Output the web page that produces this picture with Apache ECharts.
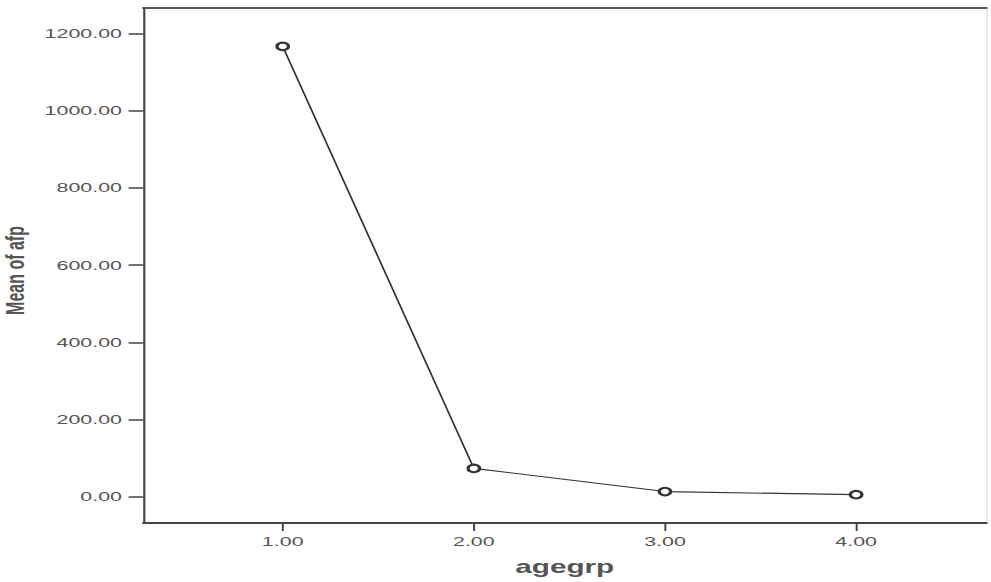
<!DOCTYPE html>
<html>
<head>
<meta charset="utf-8">
<script src="https://cdn.jsdelivr.net/npm/echarts@6/dist/echarts.min.js"></script>
<style>
html,body{margin:0;padding:0;background:#fff;overflow:hidden;}
#wrap{width:991px;height:582px;overflow:hidden;}
#chart{width:601px;height:582px;transform:scaleX(1.649);transform-origin:0 0;}
</style>
</head>
<body>
<div id="wrap"><div id="chart"></div></div>
<script>
const categories = [1, 2, 3, 4];
const meanAfp = [1166, 74, 14, 6];
const yTicks = [0, 200, 400, 600, 800, 1000, 1200];
const xTicks = [1, 2, 3, 4];
const xTitle = 'agegrp';
const yTitle = 'Mean of afp';

const chart = echarts.init(document.getElementById('chart'), null, {renderer: 'svg'});
const fmt = v => Number(v).toFixed(2);
chart.setOption({
  animation: false,
  backgroundColor: '#fff',
  grid: {left: 87, right: 3, top: 8, bottom: 59, containLabel: false, outerBoundsMode: 'none'},
  xAxis: [{
    type: 'value', min: 0.2715, max: 4.68, position: 'bottom',
    name: xTitle, nameLocation: 'middle', nameGap: 35, nameMoveOverlap: false,
    nameTextStyle: {fontFamily: 'Liberation Sans', fontWeight: 'bold', fontSize: 18, color: '#555'},
    axisLine: {show: true, onZero: false, lineStyle: {color: '#444', width: 2}},
    axisTick: {show: true, length: 8, customValues: xTicks, lineStyle: {color: '#444', width: 1.2}},
    axisLabel: {customValues: xTicks, formatter: fmt, margin: 12, fontFamily: 'Liberation Sans', fontSize: 13, color: '#555'},
    splitLine: {show: false}
  }, {
    type: 'value', min: 0.2715, max: 4.68, position: 'top',
    axisLine: {show: true, onZero: false, lineStyle: {color: '#555', width: 2}},
    axisTick: {show: false}, axisLabel: {show: false}, splitLine: {show: false}
  }],
  yAxis: [{
    type: 'value', min: -67.3, max: 1265.4, position: 'left',
    name: yTitle, nameLocation: 'middle', nameGap: 70, nameRotate: 90, nameMoveOverlap: false,
    nameTextStyle: {fontFamily: 'Liberation Sans', fontWeight: 'bold', fontSize: 16, color: '#555', padding: [0, 10, 0, 0]},
    axisLine: {show: true, onZero: false, lineStyle: {color: '#444', width: 1.3}},
    axisTick: {show: true, length: 9, customValues: yTicks, lineStyle: {color: '#444', width: 1.5}},
    axisLabel: {customValues: yTicks, formatter: fmt, margin: 13, fontFamily: 'Liberation Sans', fontSize: 13, color: '#555'},
    splitLine: {show: false}
  }, {
    type: 'value', min: -67.3, max: 1265.4, position: 'right',
    axisLine: {show: true, onZero: false, lineStyle: {color: '#e6e6e6', width: 1}},
    axisTick: {show: false}, axisLabel: {show: false}, splitLine: {show: false}
  }],
  series: [{
    type: 'line',
    xAxisIndex: 0, yAxisIndex: 0,
    data: categories.map((c, i) => [c, meanAfp[i]]),
    symbol: 'emptyCircle',
    symbolSize: [7, 7.5],
    showAllSymbol: true,
    color: '#333',
    lineStyle: {color: '#333', width: 1.1},
    itemStyle: {color: '#333', borderColor: '#333', borderWidth: 0.9}
  }]
});
</script>
</body>
</html>
